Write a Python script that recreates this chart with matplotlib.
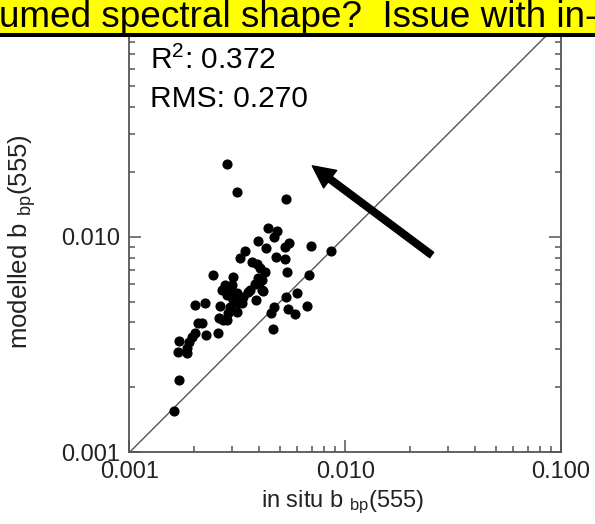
import matplotlib
matplotlib.use('Agg')
import matplotlib.pyplot as plt
from matplotlib.patches import Rectangle
from matplotlib.lines import Line2D
from matplotlib.ticker import LogLocator, FixedLocator, NullFormatter

plt.rcParams['font.family'] = ['Liberation Sans', 'DejaVu Sans']
plt.rcParams['mathtext.fontset'] = 'custom'
plt.rcParams['mathtext.rm'] = 'Liberation Sans'
plt.rcParams['mathtext.default'] = 'regular'

# in situ vs modelled particulate backscattering at 555 nm
in_situ = [0.00282, 0.00316, 0.00530, 0.00440, 0.00481, 0.00468, 0.00395, 0.00550,
           0.00527, 0.00429, 0.00694, 0.00862, 0.00343, 0.00325, 0.00476, 0.00527,
           0.00369, 0.00389, 0.00403, 0.00425, 0.00539, 0.00245, 0.00303, 0.00677,
           0.00395, 0.00400, 0.00277, 0.00414, 0.00268, 0.00292, 0.00355, 0.00314,
           0.00282, 0.00337, 0.00303, 0.00319, 0.00385, 0.00531, 0.00599, 0.00224,
           0.00201, 0.00264, 0.00292, 0.00314, 0.00287, 0.00468, 0.00663, 0.00541,
           0.00451, 0.00583, 0.00261, 0.00282, 0.00208, 0.00218, 0.00258, 0.00226,
           0.00201, 0.00194, 0.00464, 0.00189, 0.00170, 0.00185, 0.00167, 0.00185,
           0.00170, 0.00160, 0.00298, 0.00410, 0.00362, 0.00270, 0.00332, 0.00382,
           0.00411]
modelled = [0.02167, 0.01607, 0.01496, 0.01094, 0.01066, 0.00994, 0.00955, 0.00938,
            0.00893, 0.00889, 0.00908, 0.00861, 0.00861, 0.00799, 0.00803, 0.00786,
            0.00766, 0.00747, 0.00714, 0.00688, 0.00686, 0.00664, 0.00648, 0.00662,
            0.00641, 0.00608, 0.00597, 0.00562, 0.00566, 0.00556, 0.00556, 0.00546,
            0.00537, 0.00527, 0.00509, 0.00494, 0.00507, 0.00527, 0.00546, 0.00494,
            0.00481, 0.00477, 0.00470, 0.00449, 0.00444, 0.00473, 0.00479, 0.00463,
            0.00444, 0.00438, 0.00418, 0.00411, 0.00399, 0.00399, 0.00356, 0.00350,
            0.00359, 0.00344, 0.00373, 0.00326, 0.00329, 0.00306, 0.00291, 0.00290,
            0.00216, 0.00155, 0.00597, 0.00566, 0.00566, 0.00411, 0.00493, 0.00603,
            0.00630]

r2 = 0.372
rms = 0.270
lims = [0.001, 0.1]
major_ticks = [0.001, 0.01, 0.1]
x_tick_labels = ['0.001', '0.010', '0.100']
y_tick_labels = ['0.001', '0.010', '']  # top one sits under the title strip
arrow_tail = (0.02516, 0.00822)
arrow_tip = (0.00704, 0.02129)
banner_text = 'umed spectral shape?  Issue with in-'

axis_col = '#555555'
text_col = '#222222'

fig = plt.figure(figsize=(5.95, 5.24), dpi=100)
ax = fig.add_axes([0.2176, 0.1368, 0.7252, 0.8232])

ax.plot(lims, lims, color=axis_col, lw=1.0, zorder=1)
ax.plot(in_situ, modelled, 'o', color='black', ms=6.3, mec='black', zorder=3)

ax.set_xscale('log')
ax.set_yscale('log')
ax.set_xlim(lims)
ax.set_ylim(lims)

for axis in (ax.xaxis, ax.yaxis):
    axis.set_major_locator(FixedLocator(major_ticks))
    axis.set_minor_locator(LogLocator(base=10, subs=range(2, 10)))
    axis.set_minor_formatter(NullFormatter())
ax.set_xticklabels(x_tick_labels)
ax.set_yticklabels(y_tick_labels)

ax.tick_params(which='both', direction='in', top=True, right=True,
               color=axis_col, labelcolor=text_col, labelsize=17)
ax.tick_params(which='major', length=8.4, width=1.1)
ax.tick_params(which='minor', length=4.3, width=1.1)
ax.tick_params(axis='x', pad=6.5)
ax.tick_params(axis='y', pad=7)
for sp in ax.spines.values():
    sp.set_color(axis_col)
    sp.set_linewidth(1.3)

ax.set_xlabel('in situ b $_{bp}$(555)', fontsize=17, color=text_col)
ax.xaxis.set_label_coords(0.4936, -0.083)
ax.set_ylabel('modelled b $_{bp}$(555)', fontsize=18.5, color=text_col)
ax.yaxis.set_label_coords(-0.212, 0.488)

ax.text(0.0475, 0.888, 'R$^2$: %.3f' % r2, transform=ax.transAxes,
        fontsize=21.5, va='baseline', ha='left', color='black')
ax.text(0.0475, 0.801, 'RMS: %.3f' % rms, transform=ax.transAxes,
        fontsize=21.5, va='baseline', ha='left', color='black')

ax.annotate('', xy=arrow_tip, xytext=arrow_tail,
            arrowprops=dict(facecolor='black', edgecolor='black', width=4.8,
                            headwidth=15.7, headlength=16, shrink=0))

# slide title strip across the top
fig.patches.append(Rectangle((0, 0.9332), 1, 0.0668, transform=fig.transFigure,
                             facecolor='#ffff00', edgecolor='none', zorder=10))
fig.lines.append(Line2D([0, 1], [0.9332, 0.9332], transform=fig.transFigure,
                        color='black', lw=2.9, zorder=11))
fig.text(-0.002, 0.9492, banner_text, fontsize=26.6, color='black',
         ha='left', va='baseline', zorder=12)

fig.savefig('out.png', dpi=100)
